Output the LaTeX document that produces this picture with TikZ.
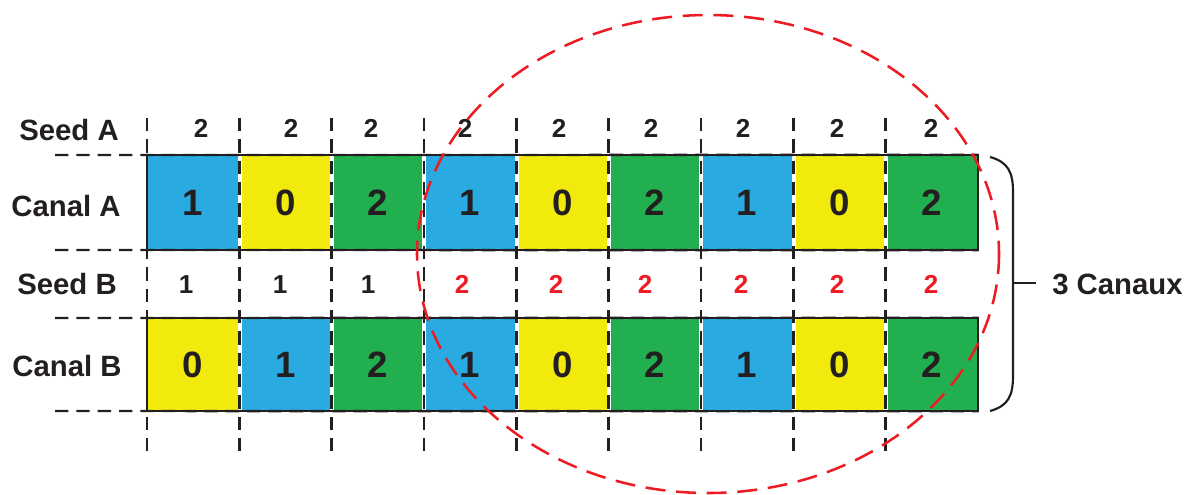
\documentclass[tikz,border=0pt]{standalone}
\usepackage{fontspec}
\setmainfont{Liberation Sans}
\definecolor{czero}{HTML}{F2EA0D}
\definecolor{cone}{HTML}{29ABE2}
\definecolor{ctwo}{HTML}{22AF4F}
\definecolor{ink}{HTML}{231F20}
\definecolor{cred}{HTML}{ED1C24}
\tikzset{
  cellbox/.style={inner sep=0pt, minimum width=69.25pt, minimum height=71pt,
    font=\fontsize{27.5}{27.5}\selectfont\bfseries, text=ink},
  rowlabel/.style={inner sep=0pt, font=\fontsize{22}{22}\selectfont\bfseries, text=ink},
  seednum/.style={inner sep=0pt, font=\fontsize{19.5}{19.5}\selectfont\bfseries, text=ink},
  gridline/.style={ink, line width=1.8pt, dash pattern=on 10pt off 6pt},
  boxline/.style={ink, line width=1.4pt},
  gapline/.style={white, line width=3pt},
  redcircle/.style={cred, line width=1.9pt, dash pattern=on 15pt off 8pt},
  bracepath/.style={ink, line width=1.6pt}
}
\begin{document}
\begin{tikzpicture}[x=0.75pt,y=-0.75pt]
\useasboundingbox (0,0) rectangle (1191,494);
% cells
\foreach \v [count=\i] in {1,0,2,1,0,2,1,0,2}{
  \pgfmathsetmacro{\cx}{147+92.33*(\i-0.5)}
  \ifcase\v \def\cc{czero}\or \def\cc{cone}\or \def\cc{ctwo}\fi
  \node[cellbox, fill=\cc] (a\i) at (\cx,202.5) {\v};
}
\foreach \v [count=\i] in {0,1,2,1,0,2,1,0,2}{
  \pgfmathsetmacro{\cx}{147+92.33*(\i-0.5)}
  \ifcase\v \def\cc{czero}\or \def\cc{cone}\or \def\cc{ctwo}\fi
  \node[cellbox, fill=\cc, minimum height=69.75pt] (b\i) at (\cx,364.5) {\v};
}
% white gaps between cells
\foreach \i in {1,...,8}{
  \draw[gapline] (a\i.north east) -- (a\i.south east);
  \draw[gapline] (b\i.north east) -- (b\i.south east);
}
% box outlines
\draw[boxline] (a1.north west) rectangle (a9.south east);
\draw[boxline] (b1.north west) rectangle (b9.south east);
% horizontal dashed lines
\coordinate (h1) at (55,155);
\coordinate (h2) at (55,250);
\coordinate (h3) at (55,318);
\coordinate (h4) at (55,411);
\draw[gridline] (h1) -- (a9.north east);
\draw[gridline] (h2) -- (a9.south east);
\draw[gridline] (h3) -- (b9.north east);
\draw[gridline] (h4) -- (b9.south east);
% vertical dashed lines
\foreach \i in {0,...,8}{
  \pgfmathsetmacro{\vx}{147+92.33*\i}
  \coordinate (vt\i) at (\vx,118);
  \coordinate (vb\i) at (\vx,455);
  \draw[gridline] (vt\i) -- (vb\i);
}
% row labels
\node[rowlabel] (lsa) at (69,130) {Seed A};
\node[rowlabel] (lca) at (66,206) {Canal A};
\node[rowlabel] (lsb) at (67,284) {Seed B};
\node[rowlabel] (lcb) at (67,366) {Canal B};
% seed A numbers
\foreach \x [count=\i] in {201,291,371,465,559,651,743,837,931}{
  \node[seednum] (sa\i) at (\x,128) {2};
}
% seed B numbers
\foreach \x [count=\i] in {186,280,368}{
  \node[seednum] (sb\i) at (\x,285) {1};
}
\foreach \x [count=\i from 4] in {462,556,645,741,837,931}{
  \node[seednum, text=cred] (sb\i) at (\x,284) {2};
}
% red dashed ellipse
\node[draw=none, inner sep=0pt] (ec) at (708,254) {};
\draw[redcircle] (ec) ellipse [x radius=291, y radius=239];
% brace
\coordinate (bt) at (990,157);
\coordinate (bb) at (990,411);
\coordinate (bm) at (1013,283);
\coordinate (bx) at (1036,283);
\draw[bracepath] (bt) .. controls (1008,162) and (1013,172) .. (1013,192) -- (1013,376) .. controls (1013,396) and (1008,406) .. (bb);
\draw[bracepath] (bm) -- (bx);
\node[rowlabel, anchor=west] (canaux) at (1052,284) {3 Canaux};
\end{tikzpicture}
\end{document}
